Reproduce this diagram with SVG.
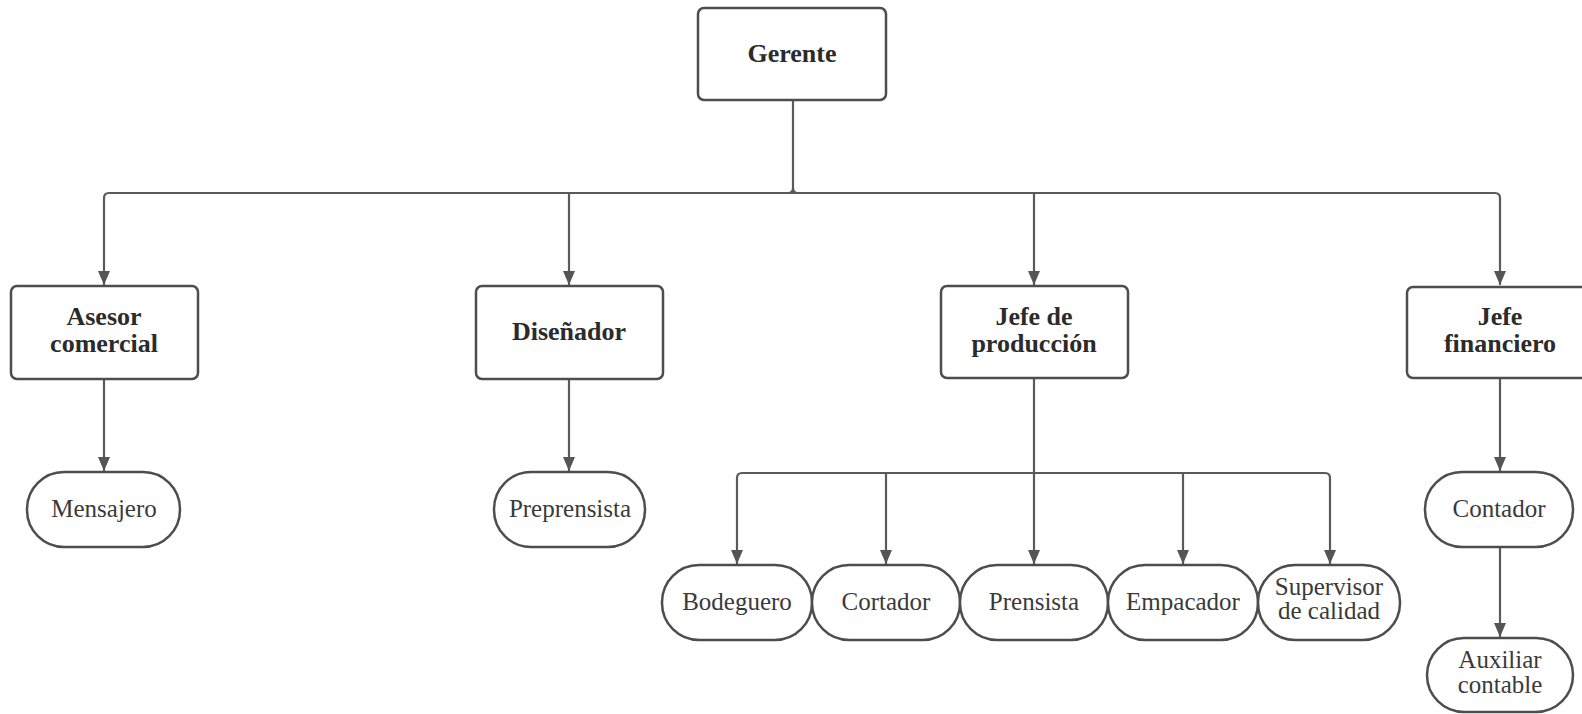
<svg xmlns="http://www.w3.org/2000/svg" width="1582" height="714" viewBox="0 0 1582 714">
  <style>
    .box { fill: #ffffff; stroke: #4d4d4d; stroke-width: 2.5; }
    .pill { fill: #ffffff; stroke: #4d4d4d; stroke-width: 2.5; }
    .head { font-family: "Liberation Serif", "DejaVu Serif", serif; font-weight: bold; font-size: 26px; fill: #2b2b2b; text-anchor: middle; }
    .role { font-family: "Liberation Serif", "DejaVu Serif", serif; font-size: 25px; fill: #3a3a3a; text-anchor: middle; }
    .wire { fill: none; stroke: #5a5a5a; stroke-width: 2.2; }
    .arrow { fill: none; stroke: #5a5a5a; stroke-width: 2.2; marker-end: url(#tip); }
  </style>
  <defs>
    <marker id="tip" viewBox="0 0 14 12" refX="14" refY="6" markerWidth="14" markerHeight="12" markerUnits="userSpaceOnUse" orient="auto">
      <path d="M0,0 L14,6 L0,12 z" fill="#555555"/>
    </marker>
  </defs>
  <rect width="1582" height="714" fill="#ffffff"/>

  <g id="connectors">
    <!-- Gerente down to the main bus, with small fillets at the joint -->
    <path class="wire" d="M793,100 V188 Q793,193 788,193"/>
    <path class="wire" d="M793,188 Q793,193 798,193"/>
    <!-- main bus to the four department heads -->
    <path class="wire" d="M109,193 H1495"/>
    <path class="arrow" d="M109,193 Q104,193 104,198 V285"/>
    <path class="arrow" d="M1495,193 Q1500,193 1500,198 V285"/>
    <path class="arrow" d="M569,193 V285"/>
    <path class="arrow" d="M1034,193 V285"/>
    <!-- single-line branches -->
    <path class="arrow" d="M104,379 V471"/>
    <path class="arrow" d="M569,379 V471"/>
    <path class="arrow" d="M1500,378 V471"/>
    <path class="arrow" d="M1500,547 V637"/>
    <!-- production bus -->
    <path class="arrow" d="M1034,378 V564"/>
    <path class="wire" d="M742,473 H1325"/>
    <path class="arrow" d="M742,473 Q737,473 737,478 V564"/>
    <path class="arrow" d="M1325,473 Q1330,473 1330,478 V564"/>
    <path class="arrow" d="M886,473 V564"/>
    <path class="arrow" d="M1183,473 V564"/>
  </g>

  <g id="gerente">
    <rect class="box" x="698" y="8" width="188" height="92" rx="6"/>
    <text class="head" x="792" y="62">Gerente</text>
  </g>

  <g id="asesor-comercial">
    <rect class="box" x="11" y="286" width="187" height="93" rx="6"/>
    <text class="head" x="104" y="325">Asesor</text>
    <text class="head" x="104" y="352">comercial</text>
  </g>

  <g id="disenador">
    <rect class="box" x="476" y="286" width="187" height="93" rx="6"/>
    <text class="head" x="569" y="340">Diseñador</text>
  </g>

  <g id="jefe-produccion">
    <rect class="box" x="941" y="286" width="187" height="92" rx="6"/>
    <text class="head" x="1034" y="325">Jefe de</text>
    <text class="head" x="1034" y="352">producción</text>
  </g>

  <g id="jefe-financiero">
    <rect class="box" x="1407" y="287" width="190" height="91" rx="6"/>
    <text class="head" x="1500" y="325">Jefe</text>
    <text class="head" x="1500" y="352">financiero</text>
  </g>

  <g id="mensajero">
    <rect class="pill" x="27" y="472" width="153" height="75" rx="37"/>
    <text class="role" x="104" y="517">Mensajero</text>
  </g>

  <g id="preprensista">
    <rect class="pill" x="494" y="472" width="151" height="75" rx="37"/>
    <text class="role" x="570" y="517">Preprensista</text>
  </g>

  <g id="bodeguero">
    <rect class="pill" x="662" y="565" width="150" height="75" rx="37"/>
    <text class="role" x="737" y="610">Bodeguero</text>
  </g>

  <g id="cortador">
    <rect class="pill" x="812" y="565" width="148" height="75" rx="37"/>
    <text class="role" x="886" y="610">Cortador</text>
  </g>

  <g id="prensista">
    <rect class="pill" x="960" y="565" width="148" height="75" rx="37"/>
    <text class="role" x="1034" y="610">Prensista</text>
  </g>

  <g id="empacador">
    <rect class="pill" x="1108" y="565" width="150" height="75" rx="37"/>
    <text class="role" x="1183" y="610">Empacador</text>
  </g>

  <g id="supervisor-calidad">
    <rect class="pill" x="1258" y="565" width="142" height="75" rx="37"/>
    <text class="role" x="1329" y="595">Supervisor</text>
    <text class="role" x="1329" y="619">de calidad</text>
  </g>

  <g id="contador">
    <rect class="pill" x="1425" y="472" width="148" height="75" rx="37"/>
    <text class="role" x="1499" y="517">Contador</text>
  </g>

  <g id="auxiliar-contable">
    <rect class="pill" x="1427" y="638" width="146" height="74" rx="37"/>
    <text class="role" x="1500" y="668">Auxiliar</text>
    <text class="role" x="1500" y="693">contable</text>
  </g>
</svg>
